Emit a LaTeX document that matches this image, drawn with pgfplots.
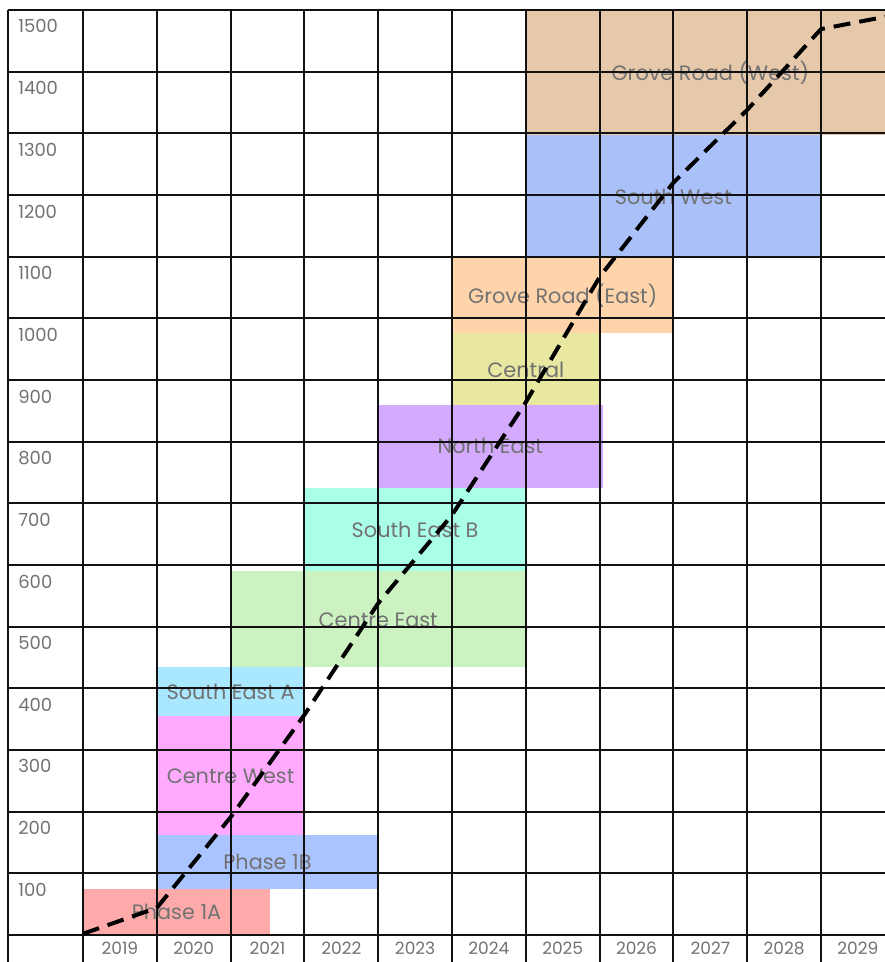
\documentclass[border=0pt]{standalone}
\usepackage{pgfplots}
\pgfplotsset{compat=1.18}
\usepackage{fontspec}
\setmainfont{Poppins}
\definecolor{cA}{HTML}{FFAAAA}
\definecolor{cB}{HTML}{AAC4FF}
\definecolor{cCW}{HTML}{FFAAFF}
\definecolor{cSEA}{HTML}{AAE8FF}
\definecolor{cCE}{HTML}{CCF2C2}
\definecolor{cSEB}{HTML}{AAFFE8}
\definecolor{cNE}{HTML}{D4AAFF}
\definecolor{cC}{HTML}{E8E8A0}
\definecolor{cGRE}{HTML}{FFD4AA}
\definecolor{cSW}{HTML}{AAC0F8}
\definecolor{cGRW}{HTML}{E6C8AA}
\definecolor{labgrey}{HTML}{727272}
\definecolor{gridc}{HTML}{111111}
\tikzset{lab/.style={font=\fontsize{10.4}{11}\selectfont, text=labgrey, inner sep=0pt}}
\begin{document}
\begin{tikzpicture}
\begin{axis}[
  scale only axis, width=442.5pt, height=481pt,
  xmin=-1.1247, xmax=10.867, ymin=-43.78, ymax=1516.2,
  axis line style={draw=none},
  clip=true,
  xtick={0.5,1.5,...,10.5},
  xticklabels={2019,2020,2021,2022,2023,2024,2025,2026,2027,2028,2029},
  ytick={100,200,...,1500},
  major tick length=0pt,
  /pgf/number format/assume math mode=true,
  /pgf/number format/1000 sep={},
  xticklabel style={anchor=center, yshift=7pt, font=\fontsize{8.5}{9}\selectfont, text=labgrey},
  yticklabel style={anchor=west, xshift=5.6pt, yshift=-8.2pt, font=\fontsize{9}{9}\selectfont, text=labgrey},
]
% phase blocks
\addplot[draw=none, fill=cA] coordinates {(0,0) (2.534,0) (2.534,74) (0,74)} -- cycle;
\addplot[draw=none, fill=cB] coordinates {(1,74) (4,74) (4,162) (1,162)} -- cycle;
\addplot[draw=none, fill=cCW] coordinates {(1,162) (3,162) (3,355) (1,355)} -- cycle;
\addplot[draw=none, fill=cSEA] coordinates {(1,355) (3,355) (3,435) (1,435)} -- cycle;
\addplot[draw=none, fill=cCE] coordinates {(2,435) (6,435) (6,590) (2,590)} -- cycle;
\addplot[draw=none, fill=cSEB] coordinates {(3,590) (6,590) (6,725) (3,725)} -- cycle;
\addplot[draw=none, fill=cNE] coordinates {(4,725) (7.05,725) (7.05,860) (4,860)} -- cycle;
\addplot[draw=none, fill=cC] coordinates {(5,860) (7,860) (7,976) (5,976)} -- cycle;
\addplot[draw=none, fill=cGRE] coordinates {(5,976) (8,976) (8,1098) (5,1098)} -- cycle;
\addplot[draw=none, fill=cSW] coordinates {(6,1098) (10,1098) (10,1297) (6,1297)} -- cycle;
\addplot[draw=none, fill=cGRW] coordinates {(6,1297) (11,1297) (11,1500) (6,1500)} -- cycle;
% labels
\node[lab] at (axis cs:1.267,37) {Phase 1A};
\node[lab] at (axis cs:2.5,118) {Phase 1B};
\node[lab] at (axis cs:2,258) {Centre West};
\node[lab] at (axis cs:2,395) {South East A};
\node[lab] at (axis cs:4,511) {Centre East};
\node[lab] at (axis cs:4.5,657) {South East B};
\node[lab] at (axis cs:5.52,793) {North East};
\node[lab] at (axis cs:6,917) {Central};
\node[lab] at (axis cs:6.5,1037) {Grove Road (East)};
\node[lab] at (axis cs:8,1197) {South West};
\node[lab] at (axis cs:8.5,1398) {Grove Road (West)};
% grid
\pgfplotsinvokeforeach{0,100,200,300,400,500,600,700,800,900,1000,1100,1200,1300,1400,1500}{
  \draw[gridc, line width=1pt] (axis cs:-1.016,#1) -- (axis cs:10.867,#1);
}
\pgfplotsinvokeforeach{-1.016,0,1,2,3,4,5,6,7,8,9,10}{
  \draw[gridc, line width=1pt] (axis cs:#1,-43.78) -- (axis cs:#1,1500);
}
% cumulative line
\addplot[black, line width=2pt, dash pattern=on 8.5pt off 4.5pt] coordinates {
  (0,2) (1,44) (2,191) (3,357) (4,538) (5,681) (6,864) (7,1067) (8,1220) (9,1338) (10,1469) (11,1492)
};
\end{axis}
\pgfresetboundingbox
\path (current axis.south west) rectangle (current axis.north east);
\end{tikzpicture}
\end{document}
